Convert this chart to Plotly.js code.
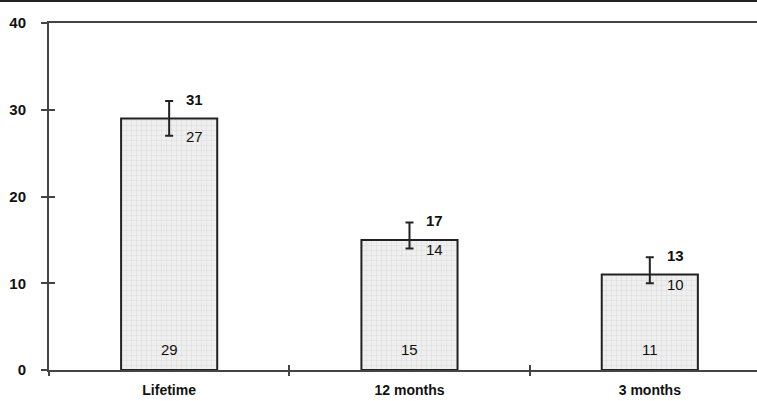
<!DOCTYPE html>
<html>
<head>
<meta charset="utf-8">
<script src="https://cdn.plot.ly/plotly-3.0.1.min.js"></script>
<style>
html,body{margin:0;padding:0;background:#fff;}
#chart{width:757px;height:401px;}
</style>
</head>
<body>
<div id="chart"></div>
<script>
const categories = ["Lifetime", "12 months", "3 months"];
const values = [29, 15, 11];
const upper = [31, 17, 13];
const lower = [27, 14, 10];
const yTicks = [0, 10, 20, 30, 40];

const idx = categories.map((c, i) => i);
const font = "Arial, 'Liberation Sans', sans-serif";

const bar = {
  type: "bar",
  x: idx,
  y: values,
  width: 0.4,
  marker: {
    color: "#eeeeee",
    line: {color: "#222", width: 2},
    pattern: {shape: "+", size: 5, solidity: 0.12, fgcolor: "#cfcfcf", bgcolor: "#efefef"}
  },
  error_y: {
    type: "data",
    symmetric: false,
    array: upper.map((u, i) => u - values[i]),
    arrayminus: values.map((v, i) => v - lower[i]),
    color: "#222",
    thickness: 2,
    width: 4
  },
  hoverinfo: "none",
  showlegend: false
};

const boundary = idx.map(i => i - 0.5).concat([idx.length - 0.5]);

const annotations = [];
idx.forEach(i => {
  annotations.push({x: i, y: upper[i], text: "<b>" + upper[i] + "</b>", showarrow: false,
    xanchor: "left", xshift: 15, yshift: 2, font: {family: font, size: 15, color: "#111"}});
  annotations.push({x: i, y: lower[i], text: String(lower[i]), showarrow: false,
    xanchor: "left", xshift: 15, yshift: -1, font: {family: font, size: 15, color: "#111"}});
  annotations.push({x: i, y: 0, text: String(values[i]), showarrow: false,
    yanchor: "bottom", yshift: 10, font: {family: font, size: 15, color: "#111"}});
});

const layout = {
  width: 757, height: 401,
  margin: {l: 49, r: 0, t: 23, b: 31},
  paper_bgcolor: "#fff", plot_bgcolor: "#fff",
  showlegend: false,
  bargap: 0.6,
  xaxis: {
    range: [-0.5, 2.446],
    tickvals: idx, ticktext: categories.map(c => "<b>" + c + "</b>"),
    ticks: "", showgrid: false, zeroline: false,
    showline: true, linecolor: "#444", linewidth: 2, mirror: true,
    ticklabelstandoff: 6,
    tickfont: {family: font, size: 14, color: "#111"},
    fixedrange: true
  },
  xaxis2: {
    overlaying: "x", matches: "x", anchor: "y", side: "bottom",
    tickvals: boundary, showticklabels: false,
    ticks: "outside", ticklen: 5, tickwidth: 2, tickcolor: "#444",
    showgrid: false, zeroline: false, showline: false
  },
  xaxis3: {
    overlaying: "x", matches: "x", anchor: "y", side: "bottom",
    tickvals: boundary, showticklabels: false,
    ticks: "inside", ticklen: 5, tickwidth: 2, tickcolor: "#444",
    showgrid: false, zeroline: false, showline: false
  },
  yaxis: {
    range: [0, 40],
    tickvals: yTicks, ticktext: yTicks.map(t => "<b>" + t + "</b>"),
    ticks: "outside", ticklen: 6, tickwidth: 2, tickcolor: "#444",
    showgrid: false, zeroline: false,
    showline: true, linecolor: "#444", linewidth: 2,
    ticklabelstandoff: 12,
    tickfont: {family: font, size: 15, color: "#111"},
    fixedrange: true
  },
  yaxis2: {
    overlaying: "y", matches: "y", anchor: "x", side: "left",
    tickvals: yTicks, showticklabels: false,
    ticks: "inside", ticklen: 6, tickwidth: 2, tickcolor: "#444",
    showgrid: false, zeroline: false, showline: false
  },
  shapes: [{
    type: "line", xref: "paper", yref: "paper",
    x0: -49 / 708, x1: 1, y0: 1 + 22 / 347, y1: 1 + 22 / 347,
    line: {color: "#222", width: 2}
  }],
  annotations: annotations
};

const tickCarrier2 = {type: "scatter", x: boundary, y: boundary.map(() => 0), xaxis: "x2", yaxis: "y",
  mode: "markers", marker: {opacity: 0}, hoverinfo: "none", showlegend: false};
const tickCarrier3 = {type: "scatter", x: boundary, y: boundary.map(() => 0), xaxis: "x3", yaxis: "y",
  mode: "markers", marker: {opacity: 0}, hoverinfo: "none", showlegend: false};
const tickCarrierY = {type: "scatter", x: idx, y: idx.map(() => 0), xaxis: "x", yaxis: "y2",
  mode: "markers", marker: {opacity: 0}, hoverinfo: "none", showlegend: false};

Plotly.newPlot("chart", [bar, tickCarrier2, tickCarrier3, tickCarrierY], layout, {displayModeBar: false, staticPlot: true});
</script>
</body>
</html>
